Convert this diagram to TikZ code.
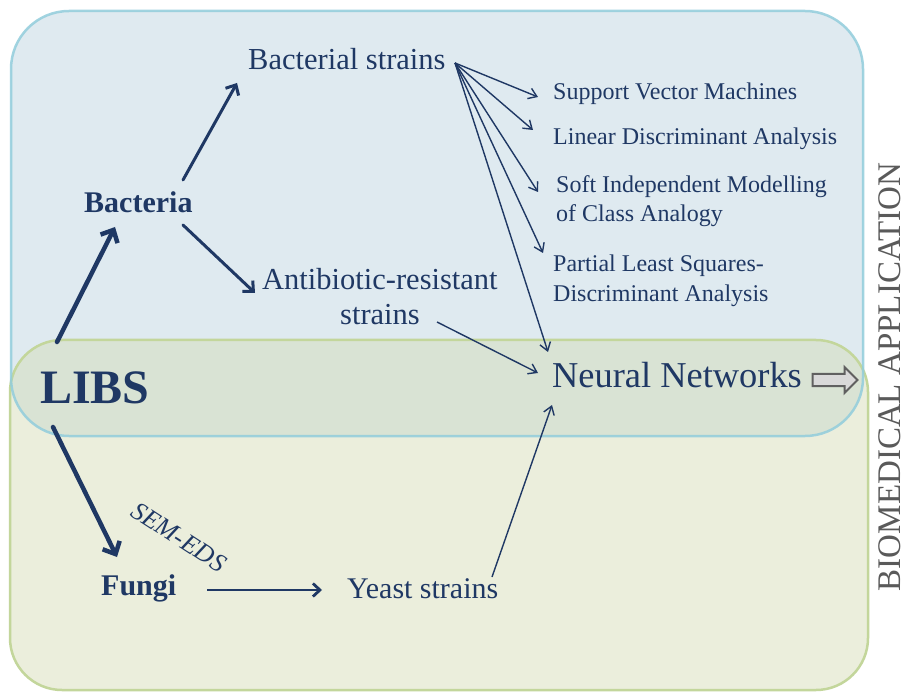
\documentclass[tikz,border=0pt]{standalone}
\usepackage{fontspec}
\setmainfont{Liberation Serif}
\usetikzlibrary{arrows.meta,shapes.arrows}
\definecolor{navy}{HTML}{1F3864}
\definecolor{bluefill}{HTML}{DFEAF0}
\definecolor{blueline}{HTML}{92CDDC}
\definecolor{greenfill}{RGB}{211,219,179}
\definecolor{greenline}{HTML}{C3D69B}
\definecolor{sidegray}{HTML}{5A5A5A}
\tikzset{
  lbl/.style={inner sep=0pt, text=navy, anchor=base west},
  fbig/.style={font=\fontsize{30.5}{36}\selectfont},
  fsmall/.style={font=\fontsize{24}{29}\selectfont},
  heavy/.style={draw=navy, line width=4.5pt, line cap=round,
    -{Straight Barb[length=10pt,width=19pt]}},
  medium/.style={draw=navy, line width=3pt, line cap=round,
    -{Straight Barb[length=8pt,width=15pt]}},
  flat/.style={draw=navy, line width=2.8pt,
    -{Straight Barb[length=7pt,width=13pt]}},
  thin/.style={draw=navy, line width=1.4pt,
    -{Straight Barb[length=8pt,width=11pt]}},
}
\begin{document}
\begin{tikzpicture}[x=1pt,y=-1pt]
\useasboundingbox (0,0) rectangle (902,692);
\fill[white] (0,0) rectangle (902,692);

% two overlapping application panels
\fill[bluefill, rounded corners=58pt] (11,11) rectangle (863,436);
\fill[greenfill, fill opacity=0.45, rounded corners=52pt] (10,340) rectangle (868,690);
\draw[greenline, line width=2.5pt, rounded corners=52pt] (10,340) rectangle (868,690);
\draw[blueline, line width=2.5pt, draw opacity=0.85, rounded corners=58pt] (11,11) rectangle (863,436);

% labels
\node[lbl, font=\fontsize{48}{56}\selectfont\bfseries] (libs) at (40,403) {LIBS};
\node[lbl, font=\fontsize{30}{36}\selectfont\bfseries] (bact) at (84,213) {Bacteria};
\node[lbl, font=\fontsize{30}{36}\selectfont\bfseries] (fungi) at (101,595) {Fungi};
\node[lbl, fbig] (bs) at (248,70) {Bacterial strains};
\node[lbl, fbig] (ar1) at (262,290) {Antibiotic-resistant};
\node[lbl, fbig] (ar2) at (340,325) {strains};
\node[lbl, font=\fontsize{30}{36}\selectfont] (ys) at (347,598) {Yeast strains};
\node[lbl, font=\fontsize{36.4}{42}\selectfont] (nn) at (552,388) {Neural Networks};
\node[lbl, fsmall] (svm) at (553,100) {Support Vector Machines};
\node[lbl, fsmall] (lda) at (553,145) {Linear Discriminant Analysis};
\node[lbl, fsmall] (simA) at (556,193) {Soft Independent Modelling};
\node[lbl, fsmall] (simB) at (556,222) {of Class Analogy};
\node[lbl, fsmall] (plsA) at (553,272) {Partial Least Squares-};
\node[lbl, fsmall] (plsB) at (553,302) {Discriminant Analysis};
\node[inner sep=0pt, text=navy, rotate=-33, font=\fontsize{26}{30}\selectfont\itshape]
  (sem) at (179,537) {SEM-EDS};
\node[inner sep=0pt, text depth=0pt, text=sidegray, rotate=90, anchor=base,
  font=\fontsize{33}{38}\selectfont]
  (side) at (900,377) {BIOMEDICAL APPLICATION};

% outgoing block arrow
\node[single arrow, draw=gray!75!black, fill=gray!30, line width=2pt,
  minimum height=45pt, minimum width=24pt, inner sep=5pt,
  single arrow head extend=7pt] (out) at (832,380) {};

% main branches
\draw[heavy] ([shift={(17,-61)}]libs.base west) -- ([shift={(31,14)}]bact.base west);
\draw[heavy] ([shift={(13,24)}]libs.base west) -- ([shift={(16,-38)}]fungi.base west);
\draw[medium] ([shift={(99,-33)}]bact.base west) -- ([shift={(-11,13)}]bs.base west);
\draw[medium] ([shift={(99,12)}]bact.base west) -- ([shift={(-7,3)}]ar1.base west);
\draw[flat] ([shift={(106,-5)}]fungi.base west) -- ([shift={(-25,-8)}]ys.base west);

% classifiers fanning out of the bacterial strains
\coordinate (fan) at ([shift={(207,-7)}]bs.base west);
\draw[thin] (fan) -- ([shift={(-15,-3)}]svm.base west);
\draw[thin] (fan) -- ([shift={(-20,-15)}]lda.base west);
\draw[thin] (fan) -- ([shift={(-18,-1)}]simA.base west);
\draw[thin] (fan) -- ([shift={(-10,-19)}]plsA.base west);
\draw[thin] (fan) -- ([shift={(-4,-36)}]nn.base west);
\draw[thin] ([shift={(97,-3)}]ar2.base west) -- ([shift={(-14,-15)}]nn.base west);
\draw[thin] ([shift={(145,-21)}]ys.base west) -- ([shift={(0,17)}]nn.base west);
\end{tikzpicture}
\end{document}
